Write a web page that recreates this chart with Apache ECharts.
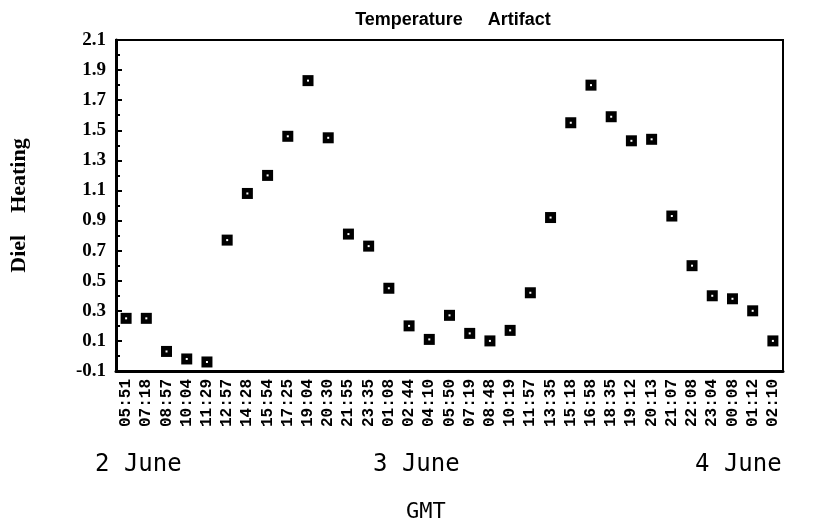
<!DOCTYPE html>
<html>
<head>
<meta charset="utf-8">
<script src="https://cdn.jsdelivr.net/npm/echarts@6/dist/echarts.min.js"></script>
<style>
  html, body { margin: 0; padding: 0; background: #fff; }
  #chart { width: 824px; height: 529px; }
</style>
</head>
<body>
<div id="chart"></div>
<script>
// GMT sample times, 2 June 05:51 -> 4 June 02:10
var times = ["05:51", "07:18", "08:57", "10:04", "11:29", "12:57", "14:28", "15:54", "17:25",
  "19:04", "20:30", "21:55", "23:35", "01:08", "02:44", "04:10", "05:50", "07:19", "08:48",
  "10:19", "11:57", "13:35", "15:18", "16:58", "18:35", "19:12", "20:13", "21:07", "22:08",
  "23:04", "00:08", "01:12", "02:10"];

// diel heating values
var heating = [0.25, 0.25, 0.03, -0.02, -0.04, 0.77, 1.08, 1.20, 1.46,
  1.83, 1.45, 0.81, 0.73, 0.45, 0.20, 0.11, 0.27, 0.15, 0.10,
  0.17, 0.42, 0.92, 1.55, 1.80, 1.59, 1.43, 1.44, 0.93, 0.60,
  0.40, 0.38, 0.30, 0.10];

var dayLabels = ["2 June", "3 June", "4 June"];
var yTicks = ["-0.1", "0.1", "0.3", "0.5", "0.7", "0.9", "1.1", "1.3", "1.5", "1.7", "1.9", "2.1"];

// axis runs -0.1..2.1; shift by 0.1 so ticks start at a multiple of the interval
var shift = 0.1;
var plotted = heating.map(function (v) { return +(v + shift).toFixed(3); });

var chart = echarts.init(document.getElementById("chart"));
chart.setOption({
  backgroundColor: "#fff",
  animation: false,
  title: {
    text: "Temperature     Artifact",
    left: 448,
    textAlign: "center",
    top: 6,
    textStyle: { fontFamily: "Liberation Sans", fontWeight: "bold", fontSize: 18, color: "#000" }
  },
  grid: {
    left: 116, right: 41, top: 40, bottom: 158,
    show: true, borderColor: "#000", borderWidth: 2
  },
  xAxis: {
    type: "category",
    data: times,
    boundaryGap: true,
    axisLine: { lineStyle: { color: "#000", width: 3 } },
    axisTick: { inside: true, alignWithLabel: true, length: 7, lineStyle: { color: "#000", width: 2 } },
    axisLabel: {
      interval: 0, rotate: 90, margin: 8,
      fontFamily: "Liberation Mono", fontWeight: "bold", fontSize: 16, color: "#000"
    },
    splitLine: { show: false }
  },
  yAxis: {
    type: "value",
    min: 0, max: 2.2, interval: 0.2,
    name: "Diel    Heating",
    nameLocation: "middle",
    nameGap: 86,
    nameRotate: 90,
    nameTextStyle: { fontFamily: "Liberation Serif", fontWeight: "bold", fontSize: 22, color: "#000" },
    axisLine: { show: true, lineStyle: { color: "#000", width: 3 } },
    axisTick: { show: true, inside: true, length: 6, lineStyle: { color: "#000", width: 2 } },
    minorTick: { show: true, splitNumber: 2, length: 4, lineStyle: { color: "#000", width: 2 } },
    axisLabel: {
      margin: 10,
      fontFamily: "Liberation Serif", fontWeight: "bold", fontSize: 19, color: "#000",
      formatter: function (v) { return yTicks[Math.round(v / 0.2)]; }
    },
    splitLine: { show: false }
  },
  series: [
    {
      type: "scatter",
      data: plotted,
      symbol: "rect",
      symbolSize: 11,
      itemStyle: { color: "#000", opacity: 1 }
    },
    {
      type: "scatter",
      data: plotted,
      symbol: "rect",
      symbolSize: 2,
      itemStyle: { color: "#fff", opacity: 1 },
      silent: true
    }
  ],
  graphic: [
    { type: "text", left: 95, top: 453,
      style: { text: dayLabels[0], font: "24px 'DejaVu Sans Mono'", fill: "#000" } },
    { type: "text", left: 373, top: 453,
      style: { text: dayLabels[1], font: "24px 'DejaVu Sans Mono'", fill: "#000" } },
    { type: "text", left: 695, top: 453,
      style: { text: dayLabels[2], font: "24px 'DejaVu Sans Mono'", fill: "#000" } },
    { type: "text", left: 406, top: 501,
      style: { text: "GMT", font: "22px 'DejaVu Sans Mono'", fill: "#000" } }
  ]
});
</script>
</body>
</html>
